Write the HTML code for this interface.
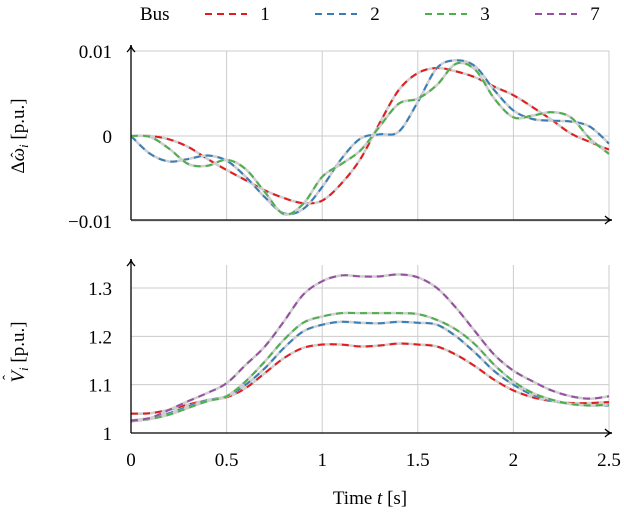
<!DOCTYPE html>
<html><head><meta charset="utf-8"><style>
body{margin:0;background:#fff}
svg text{font-family:"Liberation Serif",serif;fill:#000}
</style></head><body>
<svg id="c" width="624" height="512" xmlns="http://www.w3.org/2000/svg">
<g id="legend">
<text x="140" y="20" font-size="19">Bus</text>
</g>
<g id="topPanel"></g>
<g id="botPanel"></g>
<text x="370" y="504" font-size="19" text-anchor="middle">Time <tspan font-style="italic">t</tspan> [s]</text>
<g transform="translate(24,136) rotate(-90)">
<text x="0" y="0" font-size="19" text-anchor="middle">Δ<tspan font-style="italic">ω</tspan><tspan font-style="italic" font-size="13" dy="4">i</tspan><tspan dy="-4"> [p.u.]</tspan></text>
<text x="-19" y="-3" font-size="15" text-anchor="middle">ˆ</text>
</g>
<g transform="translate(24,352) rotate(-90)">
<text x="0" y="0" font-size="19" text-anchor="middle"><tspan font-style="italic">V</tspan><tspan font-style="italic" font-size="13" dy="4">i</tspan><tspan dy="-4"> [p.u.]</tspan></text>
</g>
<text x="0" y="0" font-size="15" transform="translate(13,380) rotate(-90)">ˆ</text>
</svg>
<script>
const times=[0,0.1,0.2,0.3,0.4,0.5,0.6,0.7,0.8,0.9,1.0,1.1,1.2,1.3,1.4,1.5,1.6,1.7,1.8,1.9,2.0,2.1,2.2,2.3,2.4,2.5];
const xTicks=[0,0.5,1,1.5,2,2.5];
const xTickLabels=["0","0.5","1","1.5","2","2.5"];
const buses=["1","2","3","7"];
const colors=["#e41a1c","#377eb8","#4daf4a","#984ea3"];
const dw1=[0,0,-0.4,-1.3,-2.7,-4,-5.2,-6.4,-7.3,-7.9,-7.6,-5.6,-2.7,1.5,5.4,7.4,8,7.6,6.9,5.8,4.8,3.4,1.9,0.3,-0.7,-1.6];
const dw2=[0,-2.1,-3.0,-2.7,-2.3,-2.9,-4.8,-7.2,-9.1,-8.6,-6,-2.7,-0.3,0.2,0.5,4,8,8.9,8.2,5.4,3,2,1.8,1.7,1.1,-0.9];
const dw3=[0,-0.1,-1.5,-3.3,-3.5,-2.8,-3.9,-6.6,-9.2,-8,-4.8,-3.3,-1.7,1.1,3.8,4.4,6,8.5,7.8,4.4,2.2,2.4,2.8,2.2,-0.3,-2.1];
const topTicks=[-0.01,0,0.01];
const topTickLabels=["−0.01","0","0.01"];
const v1=[1.040,1.041,1.048,1.059,1.068,1.074,1.093,1.124,1.155,1.176,1.183,1.183,1.179,1.181,1.185,1.183,1.179,1.162,1.138,1.110,1.088,1.074,1.066,1.062,1.062,1.064];
const v2=[1.026,1.031,1.041,1.055,1.068,1.076,1.100,1.134,1.176,1.210,1.224,1.230,1.228,1.227,1.230,1.228,1.224,1.200,1.166,1.128,1.100,1.079,1.067,1.060,1.057,1.057];
const v3=[1.024,1.029,1.038,1.052,1.066,1.076,1.107,1.148,1.193,1.228,1.241,1.248,1.248,1.248,1.248,1.246,1.234,1.214,1.183,1.141,1.107,1.083,1.069,1.060,1.057,1.059];
const v7=[1.026,1.031,1.048,1.066,1.083,1.103,1.141,1.179,1.231,1.286,1.314,1.326,1.324,1.324,1.328,1.322,1.300,1.259,1.210,1.162,1.129,1.107,1.088,1.076,1.071,1.076];
const botTicks=[1,1.1,1.2,1.3];
const botTickLabels=["1","1.1","1.2","1.3"];

const NS="http://www.w3.org/2000/svg";
function mk(p,tag,attrs){const e=document.createElementNS(NS,tag);for(const k in attrs)e.setAttribute(k,attrs[k]);p.appendChild(e);return e;}
const X=t=>131+t*(609-131)/2.5;
const Yt=v=>136-v*8500;
const Yb=v=>433-(v-1)*(433-288)/0.3;
function pathD(xs,ys){const P=xs.map((x,i)=>[x,ys[i]]);let d="M"+P[0][0]+","+P[0][1];
for(let i=0;i<P.length-1;i++){const p0=P[Math.max(0,i-1)],p1=P[i],p2=P[i+1],p3=P[Math.min(P.length-1,i+2)];
d+=" C"+(p1[0]+(p2[0]-p0[0])/6)+","+(p1[1]+(p2[1]-p0[1])/6)+" "+(p2[0]-(p3[0]-p1[0])/6)+","+(p2[1]-(p3[1]-p1[1])/6)+" "+p2[0]+","+p2[1];}
return d;}
function arrow(g,x1,y1,x2,y2,name){
const l=mk(g,"line",{x1,y1,x2,y2,stroke:"#000","stroke-width":1.3});


const dx=Math.sign(x2-x1),dy=Math.sign(y2-y1);
const h=mk(g,"path",{d:dx?`M${x2-7*dx},${y2-4}Q${x2-3*dx},${y2} ${x2},${y2}Q${x2-3*dx},${y2} ${x2-7*dx},${y2+4}`:`M${x2-4},${y2-7*dy}Q${x2},${y2-3*dy} ${x2},${y2}Q${x2},${y2-3*dy} ${x2+4},${y2-7*dy}`,fill:"none",stroke:"#000","stroke-width":1.3});


}
function panel(g,yTop,yBot,ticks,labels,Y,series,seriesNames){
xTicks.forEach(t=>{const l=mk(g,"line",{x1:X(t),x2:X(t),y1:yTop,y2:yBot,stroke:"#ccc","stroke-width":1});

});
ticks.forEach((v,i)=>{const l=mk(g,"line",{x1:131,x2:609,y1:Y(v),y2:Y(v),stroke:"#ccc","stroke-width":1});


const tx=mk(g,"text",{x:112,y:Y(v)+7,"font-size":19,"text-anchor":"end"});tx.textContent=labels[i];

});
const xs=times.map(X);
series.forEach((s,i)=>{const d=pathD(xs,s.vals.map(Y));
const bg=mk(g,"path",{d,fill:"none",stroke:"#cfcfcf","stroke-width":2.6});


const p=mk(g,"path",{d,fill:"none",stroke:s.color,"stroke-width":2,"stroke-dasharray":"7,5"});

});
arrow(g,131,yBot,612,yBot,'x-axis');
arrow(g,131,yBot,131,yTop-6,'y-axis');
}
const topG=document.getElementById("topPanel"),botG=document.getElementById("botPanel");
panel(topG,51,220,topTicks,topTickLabels,Yt,[{vals:dw1.map(v=>v/1000),color:colors[0]},{vals:dw2.map(v=>v/1000),color:colors[1]},{vals:dw3.map(v=>v/1000),color:colors[2]}],["1","2","3"]);
panel(botG,265,433,botTicks,botTickLabels,Yb,[{vals:v1,color:colors[0]},{vals:v2,color:colors[1]},{vals:v3,color:colors[2]},{vals:v7,color:colors[3]}],["1","2","3","7"]);
xTicks.forEach((t,i)=>{const tx=mk(botG,"text",{x:X(t),y:466,"font-size":19,"text-anchor":"middle"});tx.textContent=xTickLabels[i];

});
const lg=document.getElementById("legend");
buses.forEach((b,i)=>{const x0=205+i*110;
const l=mk(lg,"line",{x1:x0,x2:x0+42,y1:14,y2:14,stroke:colors[i],"stroke-width":2,"stroke-dasharray":"7,5"});


const tx=mk(lg,"text",{x:x0+60,y:20,"font-size":19,"text-anchor":"middle"});tx.textContent=b;

});
</script>
</body></html>
